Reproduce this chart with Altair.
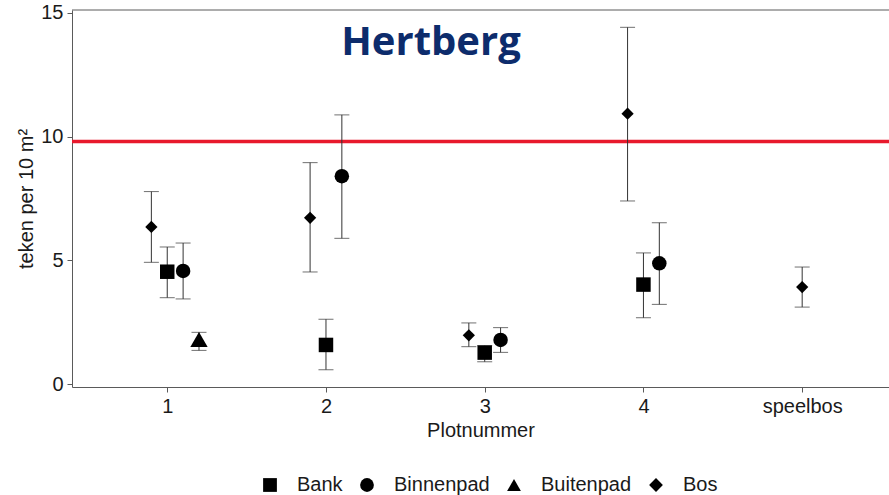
import altair as alt
import pandas as pd

# Plot categories and series
categories = ["1", "2", "3", "4", "speelbos"]
series = ["Bank", "Binnenpad", "Buitenpad", "Bos"]
shapes = ["square", "circle", "triangle-up", "diamond"]
marker_area = {"Bank": 210, "Binnenpad": 210, "Buitenpad": 300, "Bos": 150}

# Mean ticks per 10 m² with lower / upper bounds (None = not sampled)
bank_mean = [4.54, 1.58, 1.27, 4.02, None]
bank_lo = [3.49, 0.58, 0.90, 2.68, None]
bank_hi = [5.54, 2.62, 1.55, 5.30, None]

binnenpad_mean = [4.57, 8.40, 1.78, 4.88, None]
binnenpad_lo = [3.44, 5.89, 1.28, 3.22, None]
binnenpad_hi = [5.70, 10.88, 2.28, 6.52, None]

buitenpad_mean = [1.80, None, None, None, None]
buitenpad_lo = [1.36, None, None, None, None]
buitenpad_hi = [2.09, None, None, None, None]

bos_mean = [6.35, 6.72, 1.97, 10.93, 3.92]
bos_lo = [4.92, 4.53, 1.51, 7.40, 3.11]
bos_hi = [7.78, 8.95, 2.47, 14.42, 4.73]

threshold = 9.80

# Horizontal dodge per series (a category with a single series stays centred)
dodge = {"Bos": -0.1, "Bank": 0.0, "Binnenpad": 0.1, "Buitenpad": 0.2}

table = {
    "Bank": (bank_mean, bank_lo, bank_hi),
    "Binnenpad": (binnenpad_mean, binnenpad_lo, binnenpad_hi),
    "Buitenpad": (buitenpad_mean, buitenpad_lo, buitenpad_hi),
    "Bos": (bos_mean, bos_lo, bos_hi),
}

rows = []
for i, cat in enumerate(categories):
    present = [s for s in series if table[s][0][i] is not None]
    for s in present:
        m, lo, hi = (v[i] for v in table[s])
        off = dodge[s] if len(present) > 1 else 0.0
        rows.append({"plot": cat, "series": s, "x": i + 1 + off,
                     "mean": m, "lo": lo, "hi": hi, "area": marker_area[s]})
df = pd.DataFrame(rows)

W, H = 817, 377
FONT = "Liberation Sans"
AXIS_GREY = "#5a5a5a"
BAR_GREY = "#333333"

xscale = alt.Scale(domain=[0.4, 5.547], nice=False, zero=False)
yscale = alt.Scale(domain=[-0.12, 15.12], nice=False, zero=False)

label_expr = "['', '1', '2', '3', '4', 'speelbos'][datum.value]"

x_enc = alt.X("x:Q", scale=xscale, title="Plotnummer",
              axis=alt.Axis(values=[1, 2, 3, 4, 5], labelExpr=label_expr,
                            grid=False, tickSize=5, labelPadding=4,
                            titlePadding=4))
y_axis = alt.Axis(values=[0, 5, 10, 15], grid=False, tickSize=5,
                  labelPadding=4, title="teken per 10 m²", titlePadding=4)

base = alt.Chart(df)

bars = base.mark_rule(color=BAR_GREY, strokeWidth=1).encode(
    x=x_enc,
    y=alt.Y("lo:Q", scale=yscale, axis=y_axis),
    y2="hi:Q",
)
cap_lo = base.mark_tick(orient="horizontal", size=15, thickness=1,
                        color=BAR_GREY).encode(x="x:Q", y="lo:Q")
cap_hi = base.mark_tick(orient="horizontal", size=15, thickness=1,
                        color=BAR_GREY).encode(x="x:Q", y="hi:Q")

points = base.mark_point(filled=True, opacity=1, color="black").encode(
    x="x:Q",
    y="mean:Q",
    shape=alt.Shape("series:N",
                    scale=alt.Scale(domain=series, range=shapes),
                    legend=alt.Legend(title=None, orient="none",
                                      direction="horizontal",
                                      legendX=188, legendY=465,
                                      symbolSize=190,
                                      symbolFillColor="black",
                                      symbolStrokeColor="black",
                                      symbolOpacity=1,
                                      symbolStrokeWidth=0,
                                      labelFontSize=20, labelFont=FONT,
                                      labelColor="#1a1a1a",
                                      labelOffset=17, columnPadding=14)),
    size=alt.Size("area:Q", scale=None),
)

red_line = alt.Chart(pd.DataFrame({"y": [threshold]})).mark_rule(
    color="#E8192C", strokeWidth=3.5
).encode(y="y:Q")

top_border = alt.Chart(pd.DataFrame({"y": [0]})).mark_rule(
    color=AXIS_GREY, strokeWidth=1
).encode(x=alt.value(0), x2=alt.value(W), y=alt.value(0))

title_text = alt.Chart(pd.DataFrame({"t": ["Hertberg"]})).mark_text(
    font="Open Sans", fontSize=40, fontWeight="bold", color="#0D2C6C",
    align="center", baseline="alphabetic"
).encode(text="t:N", x=alt.value(359), y=alt.value(45))

chart = alt.layer(
    red_line, bars, cap_lo, cap_hi, points, top_border, title_text
).properties(
    width=W, height=H,
    autosize=alt.AutoSizeParams(type="none"),
    padding={"left": 72, "top": 10, "right": 0, "bottom": 108},
).configure_view(stroke=None).configure_axis(
    domainColor=AXIS_GREY, tickColor=AXIS_GREY, labelFont=FONT,
    titleFont=FONT, labelFontSize=20, titleFontSize=20,
    labelColor="#1a1a1a", titleColor="#1a1a1a", titleFontWeight="normal",
)

chart.save("out.html", embed_options={"renderer": "svg", "actions": False})
